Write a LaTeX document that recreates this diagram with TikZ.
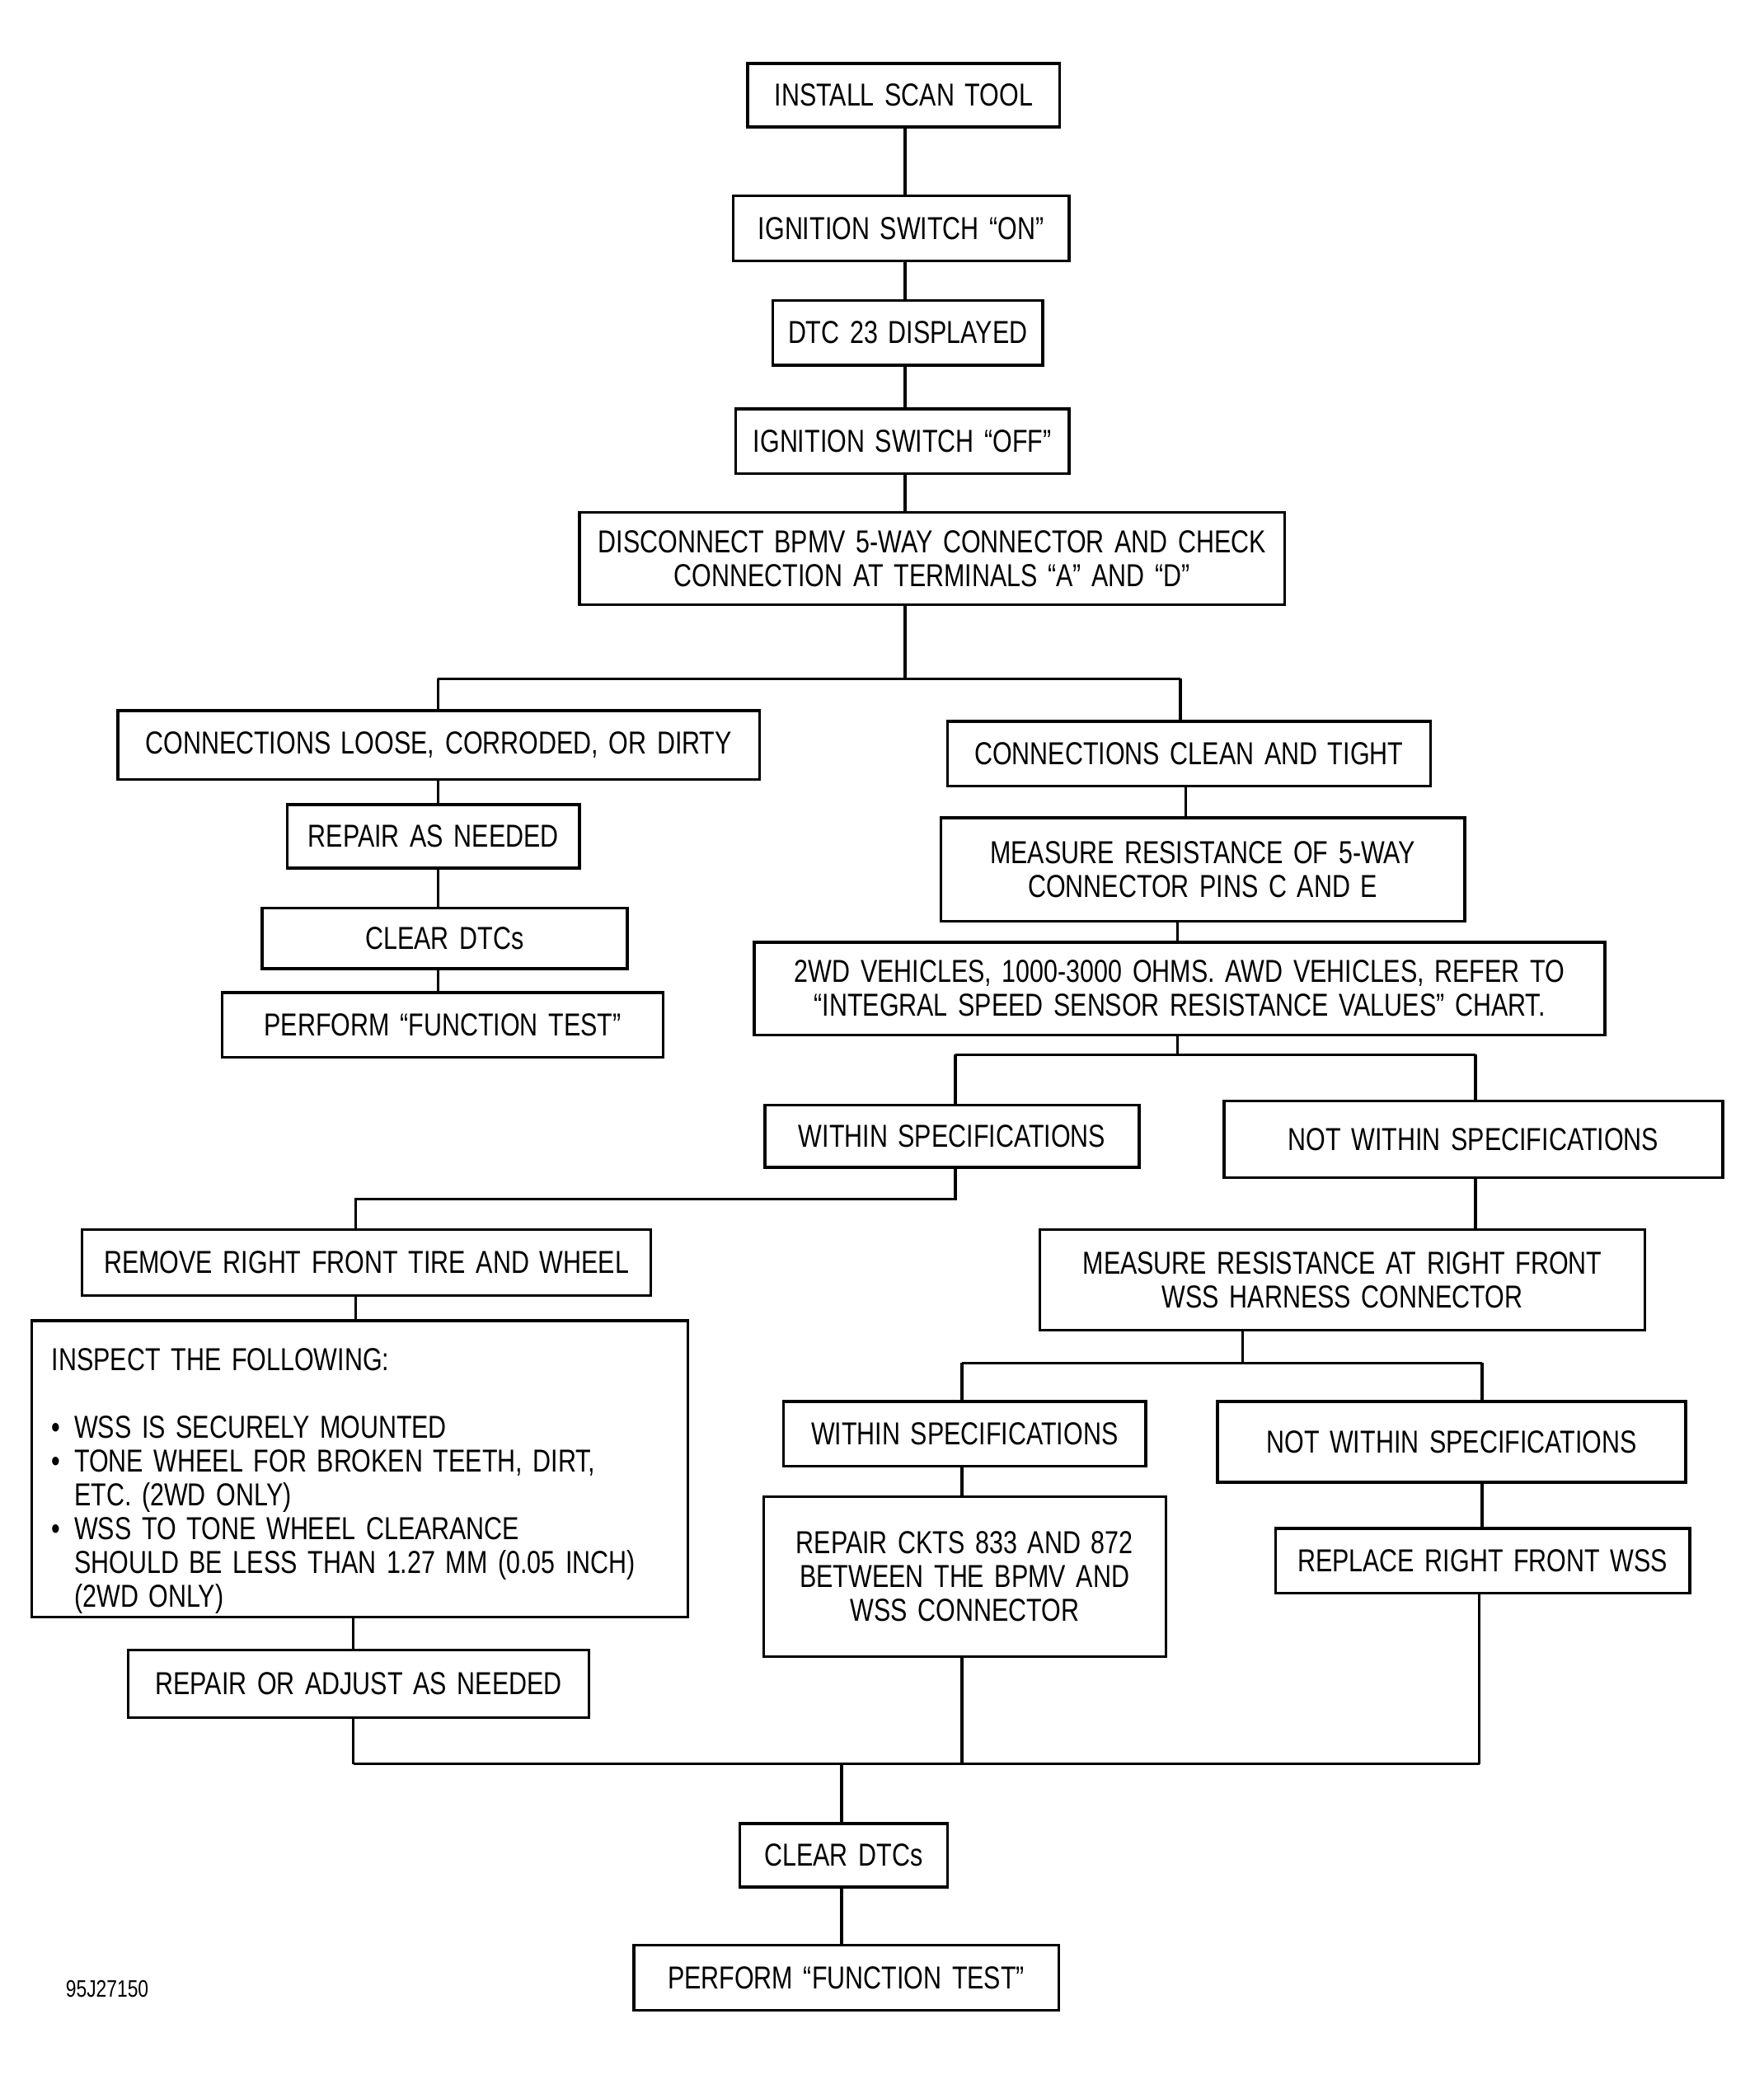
\documentclass[tikz,border=0pt]{standalone}
\usepackage{fontspec}
\setmainfont{Liberation Sans}[FakeStretch=0.79,WordSpace={1.5}]
\begin{document}
\begin{tikzpicture}[x=1pt,y=-1pt,
  box/.style={draw,line width=2.1pt,inner sep=0pt,align=center,
    font=\fontsize{24}{25.5}\selectfont},
  conn/.style={line width=2.1pt}]
\useasboundingbox (0,0) rectangle (1333,1568);
\fill[white] (0,0) rectangle (1333,1568);
% boxes
\node[box,minimum width=236pt,minimum height=48pt] (inst) at (683,72) {INSTALL SCAN TOOL};
\node[box,minimum width=254pt,minimum height=49pt] (on) at (681,172.5) {IGNITION SWITCH “ON”};
\node[box,minimum width=204pt,minimum height=49pt] (dtc) at (686,251.5) {DTC 23 DISPLAYED};
\node[box,minimum width=252pt,minimum height=49pt] (off) at (682,333.5) {IGNITION SWITCH “OFF”};
\node[box,minimum width=533pt,minimum height=70pt] (disc) at (704.5,422) {DISCONNECT BPMV 5-WAY CONNECTOR AND CHECK\\CONNECTION AT TERMINALS “A” AND “D”};
\node[box,minimum width=485pt,minimum height=52pt] (loose) at (331.5,563) {CONNECTIONS LOOSE, CORRODED, OR DIRTY};
\node[box,minimum width=221pt,minimum height=48pt] (rep) at (327.5,632) {REPAIR AS NEEDED};
\node[box,minimum width=276pt,minimum height=46pt] (clra) at (336,709) {CLEAR DTCs};
\node[box,minimum width=333pt,minimum height=49pt] (pfta) at (334.5,774.5) {PERFORM “FUNCTION TEST”};
\node[box,minimum width=365pt,minimum height=49pt] (clean) at (898.5,569.5) {CONNECTIONS CLEAN AND TIGHT};
\node[box,minimum width=396pt,minimum height=78pt] (meas) at (909,657) {MEASURE RESISTANCE OF 5-WAY\\CONNECTOR PINS C AND E};
\node[box,minimum width=643pt,minimum height=70pt] (twowd) at (891.5,747) {2WD VEHICLES, 1000-3000 OHMS. AWD VEHICLES, REFER TO\\“INTEGRAL SPEED SENSOR RESISTANCE VALUES” CHART.};
\node[box,minimum width=283pt,minimum height=47pt] (wina) at (719.5,858.5) {WITHIN SPECIFICATIONS};
\node[box,minimum width=377pt,minimum height=58pt] (nwina) at (1113.5,861) {NOT WITHIN SPECIFICATIONS};
\node[box,minimum width=430pt,minimum height=50pt] (remove) at (277,954) {REMOVE RIGHT FRONT TIRE AND WHEEL};
\node[box,minimum width=496pt,minimum height=224pt] (insp) at (272,1110) {};
\node[anchor=north west,inner sep=0pt,align=left,font=\fontsize{24}{25.5}\selectfont] (insptext) at (39,1019)
 {INSPECT THE FOLLOWING:\\[25.5pt]
  \makebox[17pt][l]{•}WSS IS SECURELY MOUNTED\\
  \makebox[17pt][l]{•}TONE WHEEL FOR BROKEN TEETH, DIRT,\\
  \hspace*{17pt}ETC. (2WD ONLY)\\
  \makebox[17pt][l]{•}WSS TO TONE WHEEL CLEARANCE\\
  \hspace*{17pt}SHOULD BE LESS THAN 1.27 MM (0.05 INCH)\\
  \hspace*{17pt}(2WD ONLY)};
\node[box,minimum width=348pt,minimum height=51pt] (radj) at (271,1272.5) {REPAIR OR ADJUST AS NEEDED};
\node[box,minimum width=457pt,minimum height=76pt] (measrf) at (1014.5,967) {MEASURE RESISTANCE AT RIGHT FRONT\\WSS HARNESS CONNECTOR};
\node[box,minimum width=274pt,minimum height=49pt] (winb) at (729,1083.5) {WITHIN SPECIFICATIONS};
\node[box,minimum width=354pt,minimum height=61pt] (nwinb) at (1097,1089.5) {NOT WITHIN SPECIFICATIONS};
\node[box,minimum width=304pt,minimum height=121pt] (rckt) at (729,1191.5) {REPAIR CKTS 833 AND 872\\BETWEEN THE BPMV AND\\WSS CONNECTOR};
\node[box,minimum width=313pt,minimum height=49pt] (repl) at (1120.5,1179.5) {REPLACE RIGHT FRONT WSS};
\node[box,minimum width=157pt,minimum height=48pt] (clrb) at (637.5,1402) {CLEAR DTCs};
\node[box,minimum width=321pt,minimum height=49pt] (pftb) at (639.5,1494.5) {PERFORM “FUNCTION TEST”};
\node[inner sep=0pt,font=\fontsize{18}{20}\selectfont] (code) at (81,1503) {95J27150};
% junction coordinates
\coordinate (ja) at (684,513);
\coordinate (jal) at (331,513);
\coordinate (jar) at (892,513);
\coordinate (jb) at (890,797);
\coordinate (jbl) at (722,797);
\coordinate (jbr) at (1115,797);
\coordinate (jc) at (722,906);
\coordinate (jcl) at (269,906);
\coordinate (jd) at (939,1030);
\coordinate (jdl) at (727,1030);
\coordinate (jdr) at (1120,1030);
\coordinate (jel) at (267,1333);
\coordinate (jem) at (727,1333);
\coordinate (jer) at (1118,1333);
\coordinate (jec) at (636,1333);
% connectors
\draw[conn] (inst.south -| ja) -- (on.north -| ja);
\draw[conn] (on.south -| ja) -- (dtc.north -| ja);
\draw[conn] (dtc.south -| ja) -- (off.north -| ja);
\draw[conn] (off.south -| ja) -- (disc.north -| ja);
\draw[conn] (disc.south -| ja) -- (ja);
\draw[conn] (jal) -- (jar);
\draw[conn] (jal) -- (loose.north -| jal);
\draw[conn] (loose.south -| jal) -- (rep.north -| jal);
\draw[conn] (rep.south -| jal) -- (clra.north -| jal);
\draw[conn] (clra.south -| jal) -- (pfta.north -| jal);
\draw[conn] (jar) -- (clean.north -| jar);
\draw[conn] (clean.south -| 896,0) -- (meas.north -| 896,0);
\draw[conn] (meas.south -| jb) -- (twowd.north -| jb);
\draw[conn] (twowd.south -| jb) -- (jb);
\draw[conn] (jbl) -- (jbr);
\draw[conn] (jbl) -- (wina.north -| jbl);
\draw[conn] (jbr) -- (nwina.north -| jbr);
\draw[conn] (wina.south -| jc) -- (jc) -- (jcl) -- (remove.north -| jcl);
\draw[conn] (remove.south -| jcl) -- (insp.north -| jcl);
\draw[conn] (insp.south -| jel) -- (radj.north -| jel);
\draw[conn] (radj.south -| jel) -- (jel);
\draw[conn] (nwina.south -| jbr) -- (measrf.north -| jbr);
\draw[conn] (measrf.south -| jd) -- (jd);
\draw[conn] (jdl) -- (jdr);
\draw[conn] (jdl) -- (winb.north -| jdl);
\draw[conn] (jdr) -- (nwinb.north -| jdr);
\draw[conn] (winb.south -| jdl) -- (rckt.north -| jdl);
\draw[conn] (rckt.south -| jem) -- (jem);
\draw[conn] (nwinb.south -| jdr) -- (repl.north -| jdr);
\draw[conn] (repl.south -| jer) -- (jer);
\draw[conn] (jel) -- (jer);
\draw[conn] (jec) -- (clrb.north -| jec);
\draw[conn] (clrb.south -| jec) -- (pftb.north -| jec);
\end{tikzpicture}
\end{document}
